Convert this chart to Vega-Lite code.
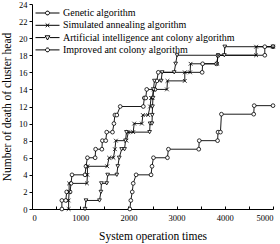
{
  "$schema": "https://vega.github.io/schema/vega-lite/v6.json",
  "width": 241,
  "height": 205,
  "autosize": {"type": "none"},
  "padding": {"left": 32, "top": 4, "right": 7, "bottom": 35},
  "config": {
    "view": {"stroke": null},
    "font": "Liberation Serif",
    "axis": {
      "grid": false,
      "domainColor": "black",
      "domainWidth": 1,
      "tickColor": "black",
      "tickWidth": 1,
      "labelColor": "black",
      "labelFont": "Liberation Serif",
      "labelFontSize": 8.5,
      "titleColor": "black",
      "titleFont": "Liberation Serif",
      "titleFontSize": 11.5,
      "titleFontWeight": "normal"
    }
  },
  "datasets": {
    "runs": [
      {"alg": "Genetic algorithm", "t": 620, "n": 0},
      {"alg": "Genetic algorithm", "t": 620, "n": 1},
      {"alg": "Genetic algorithm", "t": 700, "n": 1},
      {"alg": "Genetic algorithm", "t": 720, "n": 2},
      {"alg": "Genetic algorithm", "t": 790, "n": 2},
      {"alg": "Genetic algorithm", "t": 810, "n": 3},
      {"alg": "Genetic algorithm", "t": 830, "n": 4},
      {"alg": "Genetic algorithm", "t": 1100, "n": 4},
      {"alg": "Genetic algorithm", "t": 1120, "n": 5},
      {"alg": "Genetic algorithm", "t": 1150, "n": 6},
      {"alg": "Genetic algorithm", "t": 1310, "n": 6},
      {"alg": "Genetic algorithm", "t": 1320, "n": 7},
      {"alg": "Genetic algorithm", "t": 1450, "n": 7},
      {"alg": "Genetic algorithm", "t": 1460, "n": 8},
      {"alg": "Genetic algorithm", "t": 1530, "n": 8},
      {"alg": "Genetic algorithm", "t": 1550, "n": 9},
      {"alg": "Genetic algorithm", "t": 1670, "n": 9},
      {"alg": "Genetic algorithm", "t": 1700, "n": 10},
      {"alg": "Genetic algorithm", "t": 1720, "n": 11},
      {"alg": "Genetic algorithm", "t": 1760, "n": 11},
      {"alg": "Genetic algorithm", "t": 1830, "n": 12},
      {"alg": "Genetic algorithm", "t": 2310, "n": 12},
      {"alg": "Genetic algorithm", "t": 2330, "n": 13},
      {"alg": "Genetic algorithm", "t": 2360, "n": 13},
      {"alg": "Genetic algorithm", "t": 2380, "n": 14},
      {"alg": "Genetic algorithm", "t": 2550, "n": 14},
      {"alg": "Genetic algorithm", "t": 2590, "n": 15},
      {"alg": "Genetic algorithm", "t": 2620, "n": 16},
      {"alg": "Genetic algorithm", "t": 3530, "n": 16},
      {"alg": "Genetic algorithm", "t": 3540, "n": 17},
      {"alg": "Genetic algorithm", "t": 3830, "n": 17},
      {"alg": "Genetic algorithm", "t": 3860, "n": 18},
      {"alg": "Genetic algorithm", "t": 4830, "n": 18},
      {"alg": "Genetic algorithm", "t": 4830, "n": 19},
      {"alg": "Genetic algorithm", "t": 5000, "n": 19},

      {"alg": "Simulated annealing algorithm", "t": 760, "n": 0},
      {"alg": "Simulated annealing algorithm", "t": 760, "n": 1},
      {"alg": "Simulated annealing algorithm", "t": 770, "n": 2},
      {"alg": "Simulated annealing algorithm", "t": 770, "n": 3},
      {"alg": "Simulated annealing algorithm", "t": 1140, "n": 3},
      {"alg": "Simulated annealing algorithm", "t": 1150, "n": 4},
      {"alg": "Simulated annealing algorithm", "t": 1150, "n": 5},
      {"alg": "Simulated annealing algorithm", "t": 1560, "n": 5},
      {"alg": "Simulated annealing algorithm", "t": 1600, "n": 6},
      {"alg": "Simulated annealing algorithm", "t": 1690, "n": 6},
      {"alg": "Simulated annealing algorithm", "t": 1720, "n": 7},
      {"alg": "Simulated annealing algorithm", "t": 1740, "n": 8},
      {"alg": "Simulated annealing algorithm", "t": 1960, "n": 8},
      {"alg": "Simulated annealing algorithm", "t": 2000, "n": 9},
      {"alg": "Simulated annealing algorithm", "t": 2100, "n": 9},
      {"alg": "Simulated annealing algorithm", "t": 2120, "n": 10},
      {"alg": "Simulated annealing algorithm", "t": 2280, "n": 10},
      {"alg": "Simulated annealing algorithm", "t": 2300, "n": 11},
      {"alg": "Simulated annealing algorithm", "t": 2410, "n": 11},
      {"alg": "Simulated annealing algorithm", "t": 2450, "n": 12},
      {"alg": "Simulated annealing algorithm", "t": 2470, "n": 13},
      {"alg": "Simulated annealing algorithm", "t": 2500, "n": 13},
      {"alg": "Simulated annealing algorithm", "t": 2520, "n": 14},
      {"alg": "Simulated annealing algorithm", "t": 2800, "n": 14},
      {"alg": "Simulated annealing algorithm", "t": 2810, "n": 15},
      {"alg": "Simulated annealing algorithm", "t": 3170, "n": 15},
      {"alg": "Simulated annealing algorithm", "t": 3170, "n": 16},
      {"alg": "Simulated annealing algorithm", "t": 3280, "n": 16},
      {"alg": "Simulated annealing algorithm", "t": 3290, "n": 17},
      {"alg": "Simulated annealing algorithm", "t": 3840, "n": 17},
      {"alg": "Simulated annealing algorithm", "t": 3860, "n": 18},
      {"alg": "Simulated annealing algorithm", "t": 4650, "n": 18},
      {"alg": "Simulated annealing algorithm", "t": 4650, "n": 19},
      {"alg": "Simulated annealing algorithm", "t": 5000, "n": 19},

      {"alg": "Artificial intelligence ant colony algorithm", "t": 1100, "n": 0},
      {"alg": "Artificial intelligence ant colony algorithm", "t": 1120, "n": 1},
      {"alg": "Artificial intelligence ant colony algorithm", "t": 1400, "n": 1},
      {"alg": "Artificial intelligence ant colony algorithm", "t": 1430, "n": 2},
      {"alg": "Artificial intelligence ant colony algorithm", "t": 1440, "n": 3},
      {"alg": "Artificial intelligence ant colony algorithm", "t": 1550, "n": 3},
      {"alg": "Artificial intelligence ant colony algorithm", "t": 1570, "n": 4},
      {"alg": "Artificial intelligence ant colony algorithm", "t": 1760, "n": 4},
      {"alg": "Artificial intelligence ant colony algorithm", "t": 1780, "n": 5},
      {"alg": "Artificial intelligence ant colony algorithm", "t": 1810, "n": 6},
      {"alg": "Artificial intelligence ant colony algorithm", "t": 1860, "n": 7},
      {"alg": "Artificial intelligence ant colony algorithm", "t": 1920, "n": 7},
      {"alg": "Artificial intelligence ant colony algorithm", "t": 1940, "n": 8},
      {"alg": "Artificial intelligence ant colony algorithm", "t": 1960, "n": 9},
      {"alg": "Artificial intelligence ant colony algorithm", "t": 2440, "n": 9},
      {"alg": "Artificial intelligence ant colony algorithm", "t": 2450, "n": 10},
      {"alg": "Artificial intelligence ant colony algorithm", "t": 2490, "n": 10},
      {"alg": "Artificial intelligence ant colony algorithm", "t": 2495, "n": 11},
      {"alg": "Artificial intelligence ant colony algorithm", "t": 2500, "n": 12},
      {"alg": "Artificial intelligence ant colony algorithm", "t": 2510, "n": 13},
      {"alg": "Artificial intelligence ant colony algorithm", "t": 2520, "n": 14},
      {"alg": "Artificial intelligence ant colony algorithm", "t": 2540, "n": 15},
      {"alg": "Artificial intelligence ant colony algorithm", "t": 2680, "n": 15},
      {"alg": "Artificial intelligence ant colony algorithm", "t": 2700, "n": 16},
      {"alg": "Artificial intelligence ant colony algorithm", "t": 2950, "n": 16},
      {"alg": "Artificial intelligence ant colony algorithm", "t": 2980, "n": 17},
      {"alg": "Artificial intelligence ant colony algorithm", "t": 3010, "n": 18},
      {"alg": "Artificial intelligence ant colony algorithm", "t": 3990, "n": 18},
      {"alg": "Artificial intelligence ant colony algorithm", "t": 4000, "n": 19},
      {"alg": "Artificial intelligence ant colony algorithm", "t": 5000, "n": 19},

      {"alg": "Improved ant colony algorithm", "t": 2030, "n": 0},
      {"alg": "Improved ant colony algorithm", "t": 2050, "n": 1},
      {"alg": "Improved ant colony algorithm", "t": 2080, "n": 2},
      {"alg": "Improved ant colony algorithm", "t": 2100, "n": 3},
      {"alg": "Improved ant colony algorithm", "t": 2160, "n": 4},
      {"alg": "Improved ant colony algorithm", "t": 2470, "n": 4},
      {"alg": "Improved ant colony algorithm", "t": 2490, "n": 5},
      {"alg": "Improved ant colony algorithm", "t": 2520, "n": 6},
      {"alg": "Improved ant colony algorithm", "t": 2810, "n": 6},
      {"alg": "Improved ant colony algorithm", "t": 2830, "n": 7},
      {"alg": "Improved ant colony algorithm", "t": 3460, "n": 7},
      {"alg": "Improved ant colony algorithm", "t": 3470, "n": 8},
      {"alg": "Improved ant colony algorithm", "t": 3850, "n": 8},
      {"alg": "Improved ant colony algorithm", "t": 3860, "n": 9},
      {"alg": "Improved ant colony algorithm", "t": 3910, "n": 9},
      {"alg": "Improved ant colony algorithm", "t": 3930, "n": 11.1},
      {"alg": "Improved ant colony algorithm", "t": 4600, "n": 11.1},
      {"alg": "Improved ant colony algorithm", "t": 4610, "n": 12.1},
      {"alg": "Improved ant colony algorithm", "t": 5000, "n": 12.1}
    ]
  },
  "data": {"name": "runs"},
  "encoding": {
    "x": {
      "field": "t",
      "type": "quantitative",
      "scale": {"domain": [0, 5000], "nice": false},
      "axis": {
        "title": "System operation times",
        "values": [0, 500, 1000, 1500, 2000, 2500, 3000, 3500, 4000, 4500, 5000],
        "labelExpr": "datum.value % 1000 === 0 ? datum.label : ''",
        "format": "d",
        "tickSize": -3,
        "labelPadding": 7,
        "titlePadding": 9
      }
    },
    "y": {
      "field": "n",
      "type": "quantitative",
      "scale": {"domain": [0, 24], "nice": false},
      "axis": {
        "title": "Number of death of cluster head",
        "values": [0, 2, 4, 6, 8, 10, 12, 14, 16, 18, 20, 22, 24],
        "tickSize": 3,
        "labelPadding": 2,
        "titlePadding": 6
      }
    }
  },
  "layer": [
    {
      "mark": {"type": "line", "color": "black", "strokeWidth": 0.9},
      "encoding": {
        "detail": {"field": "alg"},
        "order": {"value": null}
      }
    },
    {
      "mark": {"type": "point", "filled": false, "stroke": "black", "fill": "white", "fillOpacity": 1, "strokeWidth": 0.8, "opacity": 1},
      "encoding": {
        "shape": {
          "field": "alg",
          "type": "nominal",
          "scale": {
            "domain": ["Genetic algorithm", "Simulated annealing algorithm", "Artificial intelligence ant colony algorithm", "Improved ant colony algorithm"],
            "range": ["circle", "M-1,-1L1,1M1,-1L-1,1", "triangle-down", "circle"]
          },
          "legend": null
        },
        "size": {"value": 14}
      }
    },
    {
      "mark": {"type": "point", "filled": false, "stroke": "black", "opacity": 0},
      "encoding": {
        "shape": {
          "field": "alg",
          "type": "nominal",
          "scale": {
            "domain": ["Genetic algorithm", "Simulated annealing algorithm", "Artificial intelligence ant colony algorithm", "Improved ant colony algorithm"],
            "range": [
              "M-2,0L-0.33,0M0.33,0L2,0M0.314,0.13L0.13,0.314L-0.13,0.314L-0.314,0.13L-0.314,-0.13L-0.13,-0.314L0.13,-0.314L0.314,-0.13Z",
              "M-2,0L2,0M-0.3,-0.3L0.3,0.3M0.3,-0.3L-0.3,0.3",
              "M-2,0L-0.4,0M0.4,0L2,0M-0.4,-0.3L0.4,-0.3L0,0.4Z",
              "M-2,0L-0.33,0M0.33,0L2,0M0.314,0.13L0.13,0.314L-0.13,0.314L-0.314,0.13L-0.314,-0.13L-0.13,-0.314L0.13,-0.314L0.314,-0.13Z"
            ]
          },
          "legend": {
            "title": null,
            "orient": "none",
            "legendX": 9,
            "legendY": 2.5,
            "labelFont": "Liberation Serif",
            "labelFontSize": 10,
            "labelColor": "black",
            "labelOffset": 9,
            "labelLimit": 300,
            "rowPadding": 0.3,
            "symbolSize": 144,
            "symbolStrokeWidth": 1,
            "symbolStrokeColor": "black",
            "symbolFillColor": "white",
            "symbolOpacity": 1
          }
        }
      }
    }
  ],
  "resolve": {"scale": {"shape": "independent"}}
}
